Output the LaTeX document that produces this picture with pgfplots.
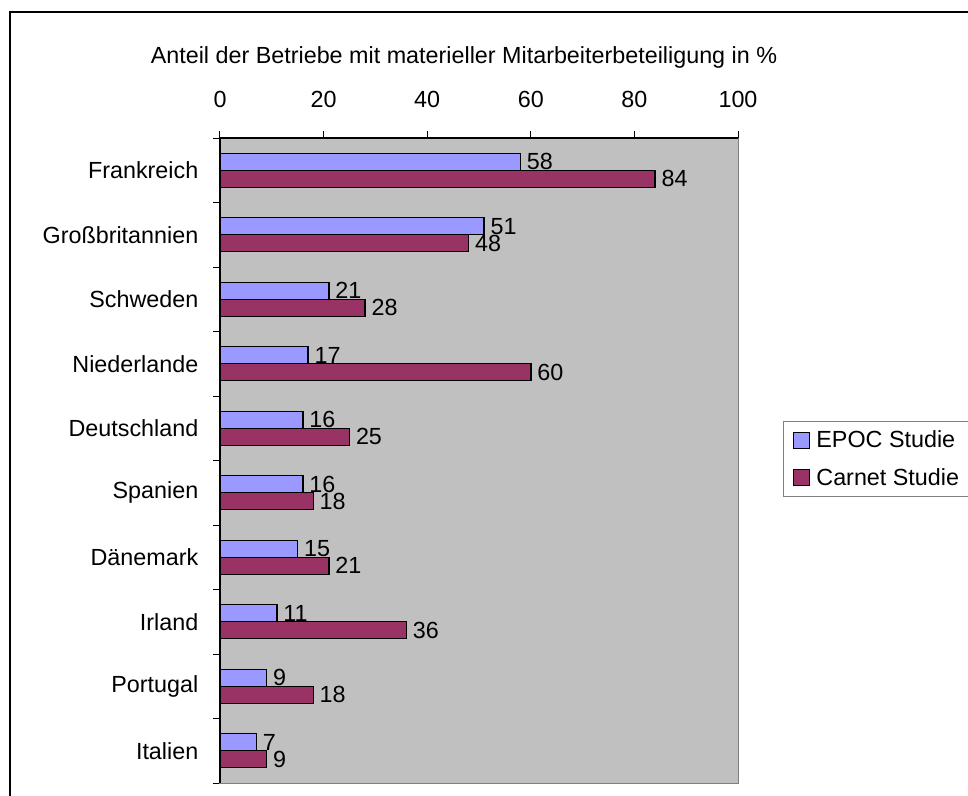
\documentclass[border=0pt]{standalone}
\usepackage{pgfplots}
\pgfplotsset{compat=1.18}
\usepackage{fontspec}
\setmainfont{Liberation Sans}
\definecolor{epoc}{HTML}{9999FF}
\definecolor{carnet}{HTML}{993366}
\definecolor{plotbg}{HTML}{C0C0C0}
\newcommand{\cf}{\fontsize{17.5}{21}\selectfont}
\begin{document}
\begin{tikzpicture}
\useasboundingbox (0pt,0pt) rectangle (726pt,597pt);
\draw[line width=1.5pt] (7.5pt,-15pt) -- (7.5pt,588pt) -- (750pt,588pt);
\begin{axis}[
  at={(165pt,9.75pt)}, anchor=south west,
  scale only axis, width=388.5pt, height=483.75pt,
  xbar, y dir=reverse,
  xmin=0, xmax=100, ymin=-0.5, ymax=9.5,
  xtick={0,20,...,100},
  xtick pos=upper, xticklabel pos=upper,
  ytick pos=left,
  ytick={0,...,9},
  yticklabels={Frankreich,Großbritannien,Schweden,Niederlande,Deutschland,Spanien,Dänemark,Irland,Portugal,Italien},
  minor ytick={-0.5,0.5,...,9.5},
  major y tick style={draw=none},
  tick align=outside,
  major tick length=5.25pt, minor tick length=5.25pt,
  tick style={black, line width=0.75pt},
  ticklabel style={font=\cf},
  xticklabel style={yshift=14pt},
  yticklabel style={xshift=-7.5pt},
  /pgf/number format/assume math mode=true,
  axis background/.style={fill=plotbg},
  axis line style={draw=gray, line width=0.75pt},
  bar width=12.75pt,
  nodes near coords,
  every node near coord/.append style={font=\cf, anchor=west, xshift=1pt},
  legend style={at={(1.0869,0.5612)}, anchor=north west, draw=gray, line width=0.6pt, font=\cf, row sep=10pt, column sep=3pt, inner xsep=7pt, inner ysep=5pt},
  legend cell align=left,
  legend image code/.code={\draw[#1, draw=black, line width=0.75pt] (0pt,-6pt) rectangle (12pt,6pt);},
]
\addplot[fill=epoc, draw=black, line width=1.1pt, bar shift=6.375pt] coordinates {
(58,0) (51,1) (21,2) (17,3) (16,4) (16,5) (15,6) (11,7) (9,8) (7,9)};
\addplot[fill=carnet, draw=black, line width=1.1pt, bar shift=-6.375pt] coordinates {
(84,0) (48,1) (28,2) (60,3) (25,4) (18,5) (21,6) (36,7) (18,8) (9,9)};
\legend{EPOC Studie, Carnet Studie}
\end{axis}
\draw[black, line width=1pt] (165pt,9.75pt) -- (165pt,493.5pt) -- (553.5pt,493.5pt);
\node[font=\cf] at (348pt,554.25pt) {Anteil der Betriebe mit materieller Mitarbeiterbeteiligung in \%};
\end{tikzpicture}
\end{document}
